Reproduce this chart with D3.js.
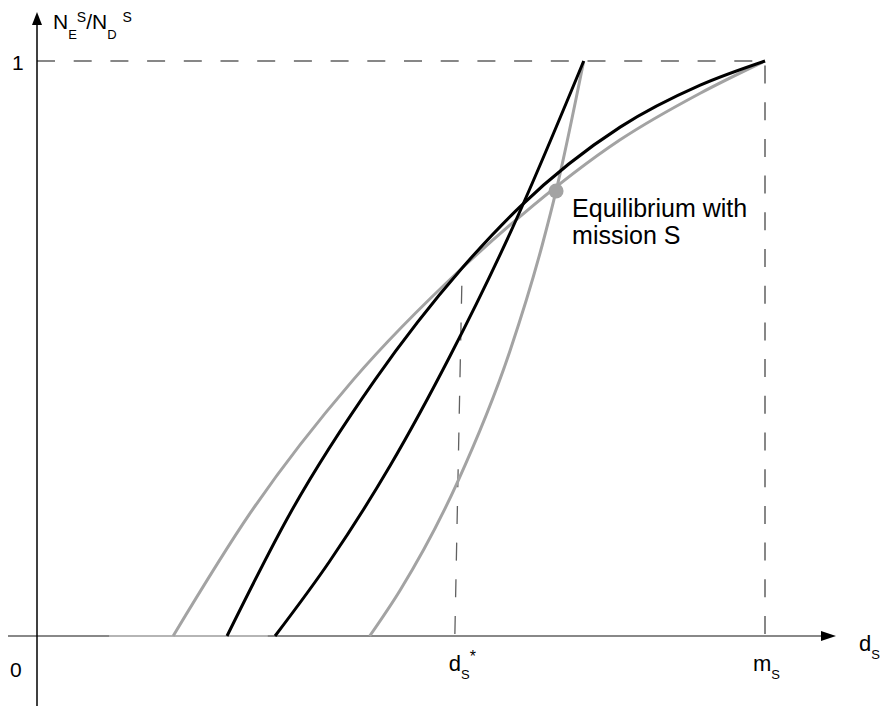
<!DOCTYPE html>
<html>
<head>
<meta charset="utf-8">
<script src="https://cdn.jsdelivr.net/npm/d3@7"></script>
<style>
  body { margin: 0; background: #fff; }
  svg text { font-family: "Liberation Sans", Arial, sans-serif; fill: #000; }
</style>
</head>
<body>
<div id="chart"></div>
<script>
// Equilibrium diagram: N_E^S / N_D^S against d_s
// values, x in units of m_s, y as share (0..1)

const grayOuter  = [[0.187, 0], [0.293, 0.214], [0.434, 0.445], [0.584, 0.640], [0.663, 0.729],
                    [0.801, 0.863], [0.911, 0.944], [1, 1]];
const blackOuter = [[0.261, 0], [0.348, 0.214], [0.464, 0.445], [0.584, 0.640], [0.663, 0.746],
                    [0.801, 0.885], [0.911, 0.958], [1, 1]];
const blackSteep = [[0.327, 0], [0.402, 0.130], [0.485, 0.296], [0.567, 0.486], [0.650, 0.701], [0.751, 1]];
const graySteep  = [[0.457, 0], [0.499, 0.080], [0.577, 0.266], [0.650, 0.497], [0.694, 0.680],
                    [0.713, 0.774], [0.751, 1]];
const flatPart   = [0.099, 0.317];       // grey stretch lying on the axis
const equilibrium = [0.713, 0.774];
const dStarTop = [0.584, 0.640];
const dStar = 0.574;
const mS = 1;

const width = 883, height = 706;
const x = d3.scaleLinear().domain([0, 1]).range([37, 765]);
const y = d3.scaleLinear().domain([0, 1]).range([636, 61]);

const svg = d3.select("#chart").append("svg")
  .attr("width", width)
  .attr("height", height)
  .attr("viewBox", `0 0 ${width} ${height}`);

const AXIS = "#606060";
const GREY = "#a3a3a3";
const DASH = "18,18.7";

// dashed guides
svg.append("line")
  .attr("x1", x(0)).attr("y1", y(1))
  .attr("x2", x(mS)).attr("y2", y(1))
  .attr("stroke", AXIS).attr("stroke-width", 1.5)
  .attr("stroke-dasharray", DASH);

svg.append("line")
  .attr("x1", x(mS)).attr("y1", y(0) - 2)
  .attr("x2", x(mS)).attr("y2", y(1))
  .attr("stroke", AXIS).attr("stroke-width", 1.5)
  .attr("stroke-dasharray", DASH);

svg.append("line")
  .attr("x1", x(dStar)).attr("y1", y(0) - 2)
  .attr("x2", x(dStarTop[0])).attr("y2", y(dStarTop[1]))
  .attr("stroke", AXIS).attr("stroke-width", 1.3)
  .attr("stroke-dasharray", DASH);

// axes
svg.append("line")
  .attr("x1", 8).attr("y1", y(0))
  .attr("x2", 826).attr("y2", y(0))
  .attr("stroke", AXIS).attr("stroke-width", 1.6);
svg.append("path")
  .attr("d", `M836,${y(0)} L821,${y(0) - 5} L821,${y(0) + 5} Z`)
  .attr("fill", "#000");

svg.append("line")
  .attr("x1", x(0)).attr("y1", height)
  .attr("x2", x(0)).attr("y2", 22)
  .attr("stroke", "#000").attr("stroke-width", 1.5);
svg.append("path")
  .attr("d", `M${x(0)},12 L${x(0) - 5},25 L${x(0) + 5},25 Z`)
  .attr("fill", "#000");

svg.append("line")
  .attr("x1", x(flatPart[0])).attr("y1", y(0))
  .attr("x2", x(flatPart[1])).attr("y2", y(0))
  .attr("stroke", "#c4c4c4").attr("stroke-width", 1.6);

// curves
const line = d3.line()
  .x(d => x(d[0]))
  .y(d => y(d[1]))
  .curve(d3.curveMonotoneX);

const curves = [
  { pts: grayOuter,  color: GREY },
  { pts: graySteep,  color: GREY },
  { pts: blackOuter, color: "#000" },
  { pts: blackSteep, color: "#000" }
];

svg.append("g").selectAll("path")
  .data(curves)
  .join("path")
  .attr("d", d => line(d.pts))
  .attr("fill", "none")
  .attr("stroke", d => d.color)
  .attr("stroke-width", 3)
  .attr("stroke-linejoin", "round");

svg.append("circle")
  .attr("cx", x(equilibrium[0]))
  .attr("cy", y(equilibrium[1]))
  .attr("r", 7.5)
  .attr("fill", GREY);

// labels
svg.append("text").attr("x", x(equilibrium[0]) + 16).attr("y", 217)
  .style("font-size", "25px").text("Equilibrium with");
svg.append("text").attr("x", x(equilibrium[0]) + 16).attr("y", 244)
  .style("font-size", "25px").text("mission S");

svg.append("text").attr("x", 12).attr("y", 70).style("font-size", "21px").text("1");
svg.append("text").attr("x", 10).attr("y", 677).style("font-size", "21px").text("0");

// y axis title N_E^S / N_D^S
const yt = svg.append("text").attr("x", 53).attr("y", 29).style("font-size", "21px");
yt.append("tspan").text("N");
yt.append("tspan").attr("dy", 10).style("font-size", "13px").text("E");
yt.append("tspan").attr("dy", -17).style("font-size", "14px").text("S");
yt.append("tspan").attr("dy", 7).text("/N");
yt.append("tspan").attr("dy", 10).style("font-size", "13px").text("D");
yt.append("tspan").attr("dx", 6).attr("dy", -17).style("font-size", "14px").text("S");

// x-axis labels
function subLabel(px, py, main, sub, extra) {
  const t = svg.append("text").attr("x", px).attr("y", py).style("font-size", "22px");
  t.append("tspan").text(main);
  t.append("tspan").attr("dy", 8).style("font-size", "13px").text(sub);
  if (extra) t.append("tspan").attr("dy", -17).style("font-size", "16px").text(extra);
  return t;
}
subLabel(x(dStar) - 6, 671, "d", "S", "*");
subLabel(x(mS) - 12, 671, "m", "S");
subLabel(859, 651, "d", "S");
</script>
</body>
</html>
